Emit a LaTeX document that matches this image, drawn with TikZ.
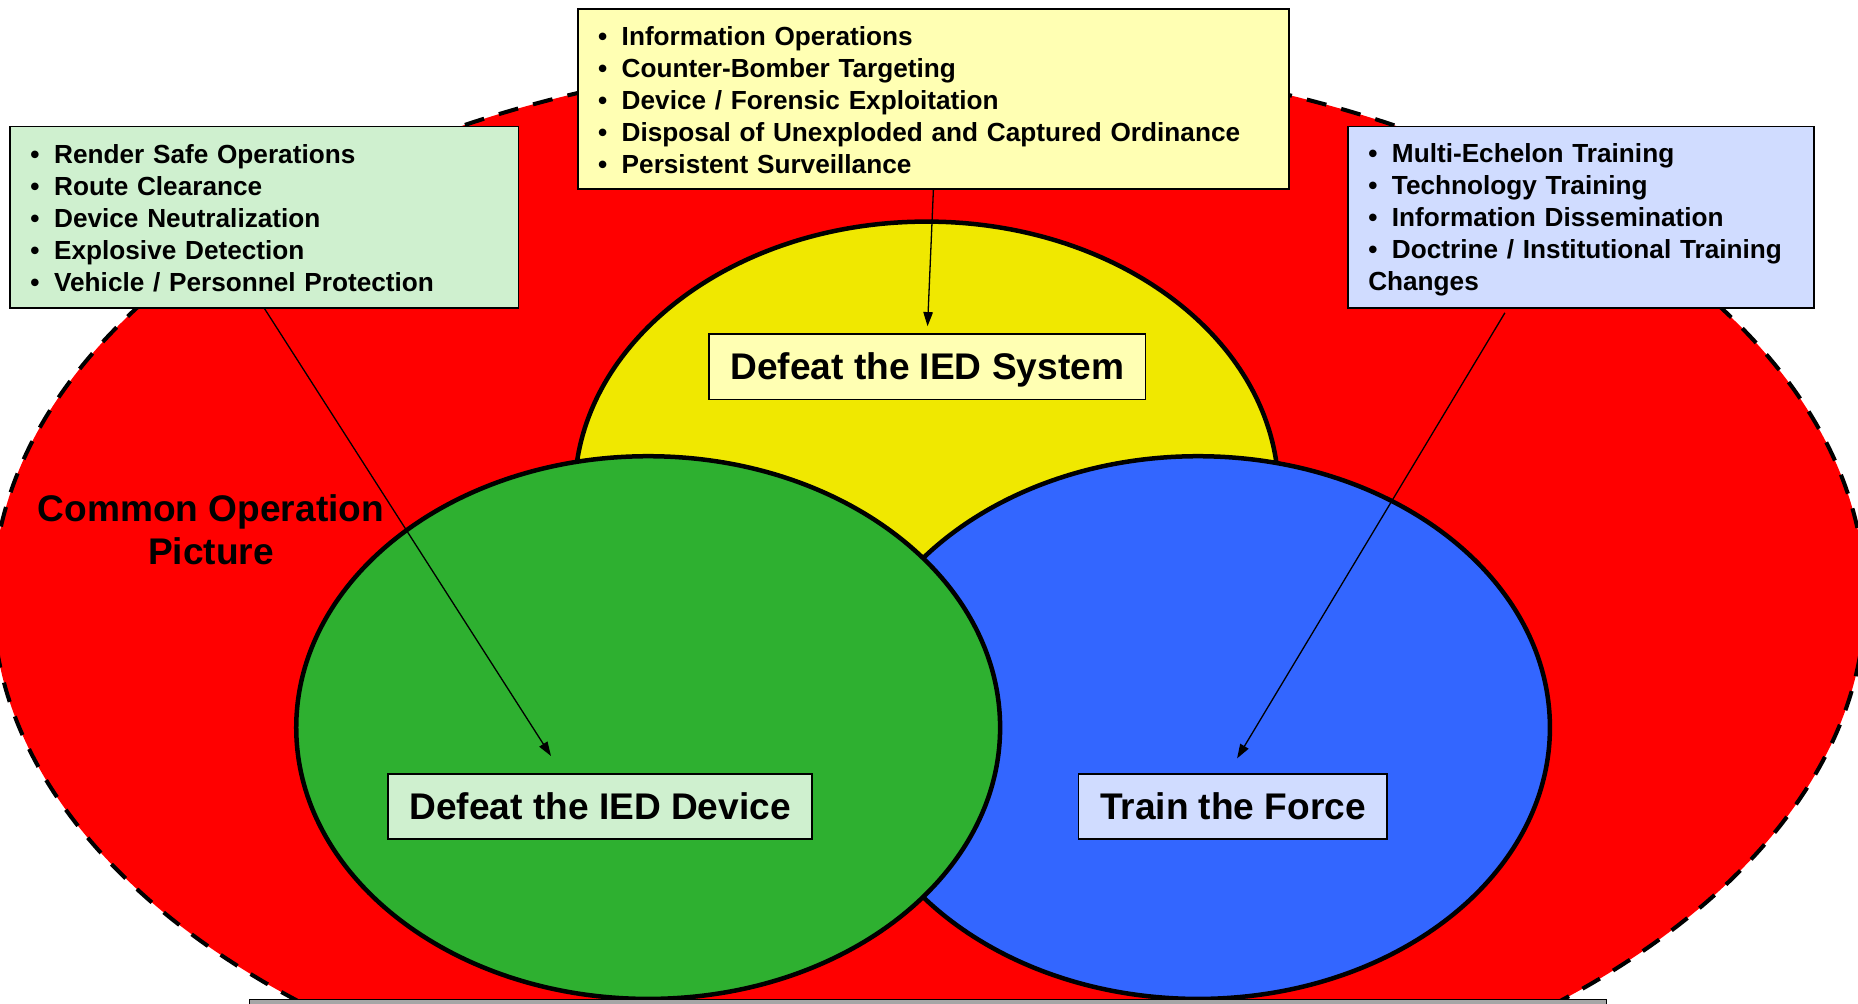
\documentclass[tikz,border=0pt]{standalone}
\usepackage{fontspec}
\setmainfont{Liberation Sans}
\usetikzlibrary{arrows.meta}
\definecolor{copred}{HTML}{FF0000}
\definecolor{sysyellow}{HTML}{F0E800}
\definecolor{devgreen}{HTML}{2EB030}
\definecolor{frcblue}{HTML}{3366FF}
\definecolor{sysfill}{HTML}{FFFFB3}
\definecolor{devfill}{HTML}{CFF0CF}
\definecolor{frcfill}{HTML}{D0DCFF}
\tikzstyle{venn} = [draw, line width=3.8pt]
\tikzstyle{listbox} = [draw, line width=1.4pt, anchor=north west, align=left, inner xsep=17pt, inner ysep=0pt, minimum height=153pt, font=\fontsize{22.1}{27}\selectfont\bfseries]
\tikzstyle{lblbox} = [draw, line width=1.3pt, inner xsep=18pt, inner ysep=0pt, minimum height=55pt, text height=22.4pt, text depth=1pt, font=\fontsize{31.3}{37}\selectfont\bfseries]
\tikzstyle{cplink} = [draw, line width=1.1pt, ->, >={Triangle[length=12pt,width=8pt]}]
\newcommand{\bitem}[1]{\makebox[20pt][l]{\textbullet}#1\rule[-4pt]{0pt}{25pt}}

\begin{document}
\begin{tikzpicture}[x=1pt,y=-1pt]
\useasboundingbox (0,0) rectangle (1568,847);
\draw[line width=3.4pt, dash pattern=on 17pt off 13pt, fill=copred] (784,505) ellipse [x radius=790pt, y radius=460pt];
\draw[venn, fill=sysyellow] (782,416) ellipse [x radius=297pt, y radius=229pt];
\draw[venn, fill=frcblue] (1011,614) ellipse [x radius=297pt, y radius=229pt];
\draw[venn, fill=devgreen] (547,614) ellipse [x radius=297pt, y radius=229pt];
\node[draw, line width=1.3pt, fill=gray!70, anchor=north west, inner sep=0pt, minimum width=1145pt, minimum height=40pt] (note) at (210,843) {};

\node[align=center, font=\fontsize{31.3}{37}\selectfont\bfseries] (cop) at (178,447) {Common Operation\\Picture};

\node[listbox, fill=sysfill, minimum width=600pt, text width=566pt, minimum height=152pt] (sysbox) at (487,7)
 {\bitem{Information Operations}\\\bitem{Counter-Bomber Targeting}\\\bitem{Device / Forensic Exploitation}\\\bitem{Disposal of Unexploded and Captured Ordinance}\\\bitem{Persistent Surveillance}};
\node[listbox, fill=devfill, minimum width=429pt, text width=395pt] (devbox) at (8,106)
 {\bitem{Render Safe Operations}\\\bitem{Route Clearance}\\\bitem{Device Neutralization}\\\bitem{Explosive Detection}\\\bitem{Vehicle / Personnel Protection}};
\node[listbox, fill=frcfill, minimum width=393pt, text width=359pt] (frcbox) at (1137,106)
 {\bitem{Multi-Echelon Training}\\\bitem{Technology Training}\\\bitem{Information Dissemination}\\\bitem{Doctrine / Institutional Training}\\Changes\rule[-4pt]{0pt}{25pt}};

\node[lblbox, fill=sysfill] (syslbl) at (782.5,309.5) {Defeat the IED System};
\node[lblbox, fill=devfill] (devlbl) at (506.5,680.5) {Defeat the IED Device};
\node[lblbox, fill=frcfill] (frclbl) at (1040.5,680.5) {Train the Force};

\coordinate (devtip) at (465,638);
\coordinate (frcfrom) at (1270,264);
\coordinate (frctip) at (1044,640);
\draw[cplink, shorten >=6pt] (sysbox.south) -- (syslbl.north);
\draw[cplink] (devbox.south) -- (devtip);
\draw[cplink] (frcfrom) -- (frctip);
\end{tikzpicture}
\end{document}
